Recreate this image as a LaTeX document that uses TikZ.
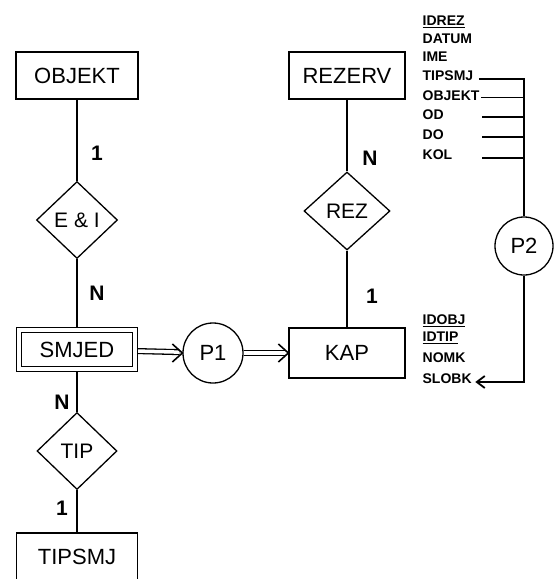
\documentclass[tikz,border=0pt]{standalone}
\usepackage{fontspec}
\setmainfont{Liberation Sans}
\usetikzlibrary{shapes.geometric,arrows.meta}
\begin{document}
\begin{tikzpicture}[x=1pt,y=-1pt,line width=1.3pt,
  ent/.style={draw, rectangle, inner sep=0pt, font=\fontsize{22}{22}\selectfont},
  rel/.style={draw, diamond, inner sep=0pt, font=\fontsize{21}{21}\selectfont},
  proc/.style={draw, circle, minimum size=60pt, inner sep=0pt, font=\fontsize{22}{22}\selectfont},
  card/.style={inner sep=0pt, font=\bfseries\fontsize{21}{21}\selectfont},
  attr/.style={anchor=west, inner sep=0pt, font=\bfseries\fontsize{14}{14}\selectfont},
  shaft/.style={double, double distance=3.5pt, line width=1.3pt, shorten >=3pt},
  chevron/.style={line width=1.6pt, line join=miter},
  tipline/.style={-{Straight Barb[length=8pt,width=12pt,line width=1.8pt]}}]
\useasboundingbox (0,0) rectangle (554,579);
\clip (0,0) rectangle (554,579);
% entities and relationships
\node[ent, minimum width=122pt, minimum height=47pt] (objekt) at (77,75.5) {OBJEKT};
\node[ent, minimum width=116pt, minimum height=47pt] (rezerv) at (347,75.5) {REZERV};
\node[rel, minimum width=81pt, minimum height=77pt] (ei) at (77,220) {E \& I};
\node[rel, minimum width=86pt, minimum height=78pt] (rez) at (347,211) {REZ};
\node[ent, double, double distance=3.6pt, line width=1.2pt, minimum width=116pt, minimum height=38.5pt] (smjed) at (77,349.5) {SMJED};
\node[proc] (p1) at (213,353) {P1};
\node[ent, minimum width=116pt, minimum height=50pt] (kap) at (347,353) {KAP};
\node[rel, minimum width=80pt, minimum height=77pt] (tip) at (77,451) {TIP};
\node[ent, minimum width=121pt, minimum height=48pt] (tipsmj) at (77,557) {TIPSMJ};
\node[proc, minimum size=58pt] (p2) at (524,246) {P2};
% cardinalities
\node[card] (c1) at (97,153) {1};
\node[card] (c2) at (97,293) {N};
\node[card] (c3) at (370,158) {N};
\node[card] (c4) at (372,296) {1};
\node[card] (c5) at (62,402) {N};
\node[card] (c6) at (62,508) {1};
% attributes
\node[attr] (aidrez) at (422,22) {\underline{IDREZ}};
\node[attr] (adatum) at (422,39) {DATUM};
\node[attr] (aime) at (422,57) {IME};
\node[attr] (atipsmj) at (422,76) {TIPSMJ};
\node[attr] (aobjekt) at (422,96) {OBJEKT};
\node[attr] (aod) at (422,115) {OD};
\node[attr] (ado) at (422,135) {DO};
\node[attr] (akol) at (422,155) {KOL};
\node[attr] (aidobj) at (422,321) {\underline{IDOBJ}};
\node[attr] (aidtip) at (422,338) {\underline{IDTIP}};
\node[attr] (anomk) at (422,358) {NOMK};
\node[attr] (aslobk) at (422,379) {SLOBK};
% connectors
\draw (objekt) -- (ei);
\draw[shorten >=2.5pt] (ei) -- (smjed);
\draw[shorten <=2.5pt] (smjed) -- (tip);
\draw (tip) -- (tipsmj);
\draw (rezerv) -- (rez);
\draw (rez) -- (kap);
% double flow arrows
\draw[shaft, shorten <=2.5pt] (smjed) -- (p1);
\draw[chevron] ([shift={(-10pt,-9pt)}]p1.west) -- (p1.west) -- ([shift={(-10pt,9pt)}]p1.west);
\draw[shaft] (p1) -- (kap);
\draw[chevron] ([shift={(-10pt,-9pt)}]kap.west) -- (kap.west) -- ([shift={(-10pt,9pt)}]kap.west);
% attribute bus
\coordinate (bus) at (524,0);
\coordinate (stub) at (482,0);
\coordinate (corner) at (524,382);
\draw ([xshift=5pt,yshift=-3pt]atipsmj.east) -- ([yshift=-3pt]atipsmj.east -| bus) -- (p2.north);
\draw ([xshift=1pt,yshift=-1.5pt]aobjekt.east) -- ([yshift=-1.5pt]aobjekt.east -| bus);
\draw ([yshift=-2pt]aod.east -| stub) -- ([yshift=-2pt]aod.east -| bus);
\draw ([yshift=-2pt]ado.east -| stub) -- ([yshift=-2pt]ado.east -| bus);
\draw ([yshift=-3pt]akol.east -| stub) -- ([yshift=-3pt]akol.east -| bus);
\draw[tipline] (p2.south) -- (corner) -- ([xshift=3pt,yshift=-3pt]aslobk.east);
\end{tikzpicture}
\end{document}
